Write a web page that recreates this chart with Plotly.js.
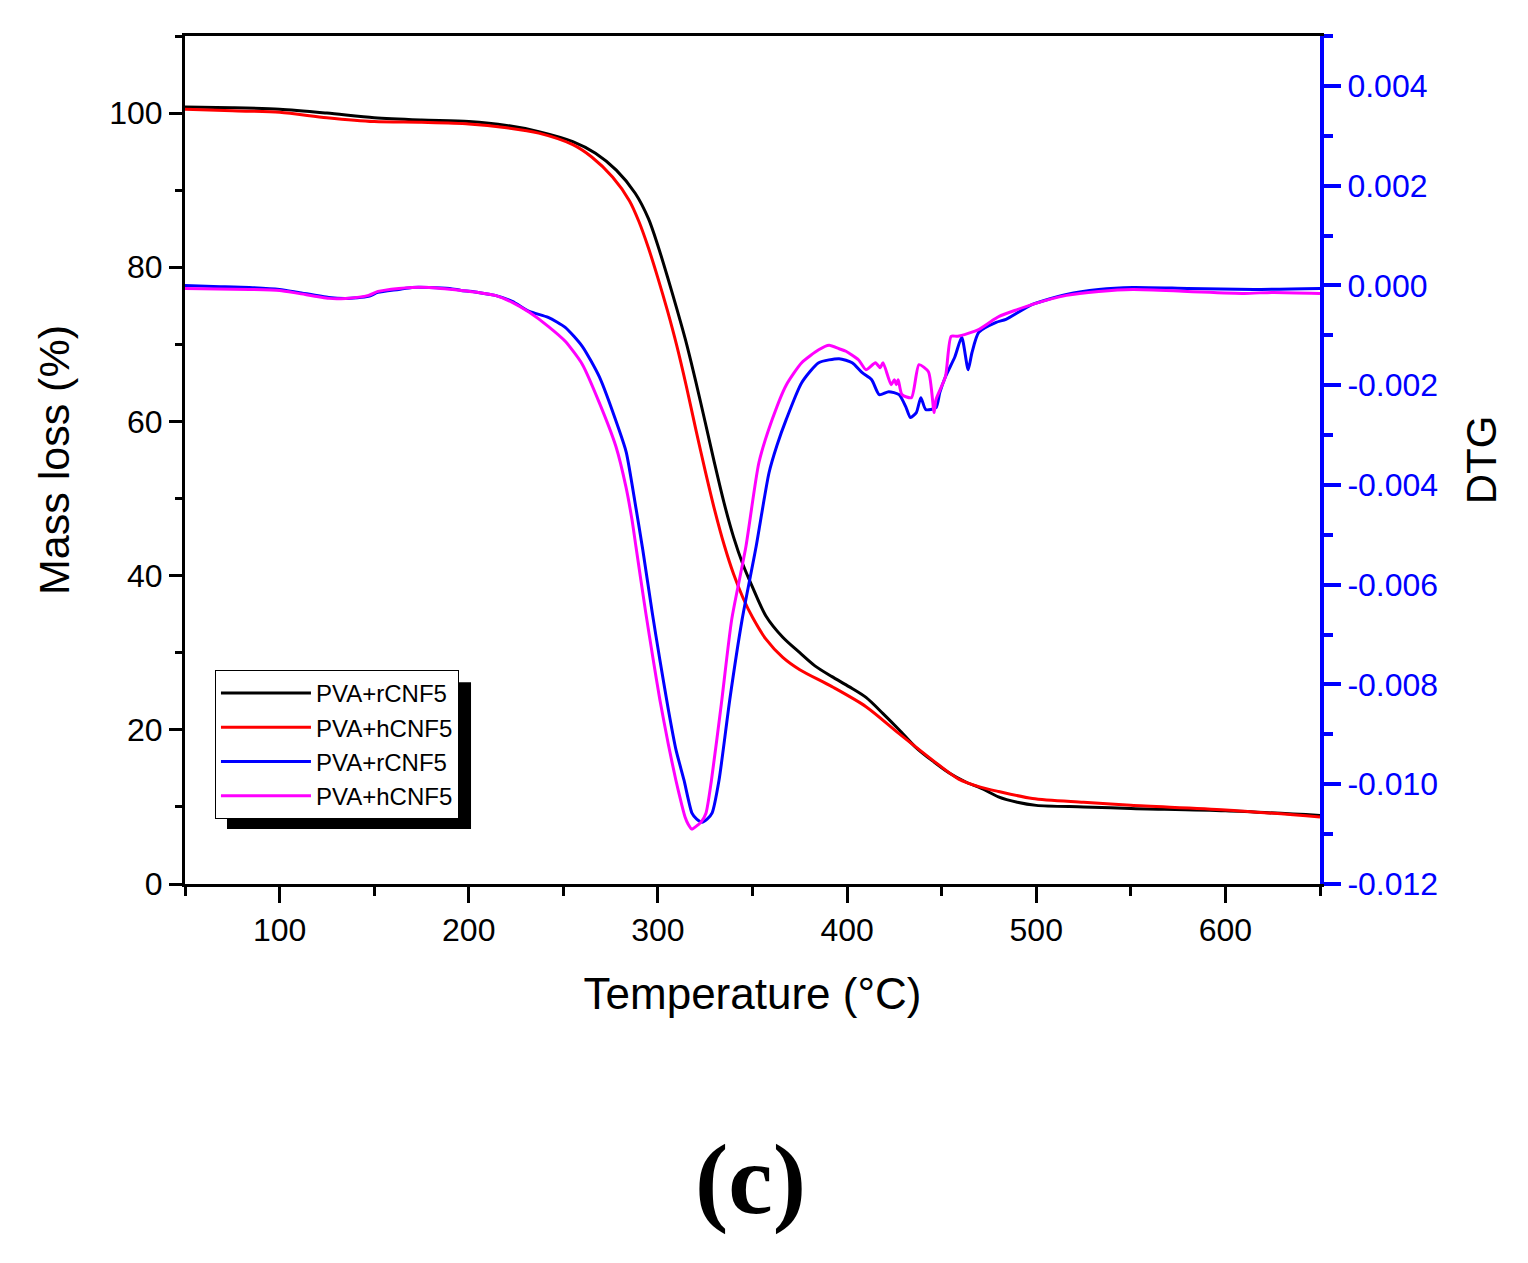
<!DOCTYPE html>
<html>
<head>
<meta charset="utf-8">
<script src="https://cdn.plot.ly/plotly-3.0.1.min.js"></script>
<style>html,body{margin:0;padding:0;background:#fff;}#chart{width:1528px;height:1263px;}</style>
</head>
<body>
<div id="chart"></div>
<script>
// ---- TGA (left axis, Mass loss %) ----
const tgaR_T = [50, 75, 100, 125, 150, 175, 200, 220, 237, 255, 267, 278, 288, 295, 300, 305, 310, 315, 320, 325, 330, 335, 340, 345, 350, 357, 366, 375, 383, 392, 401, 410, 419, 427.5, 436, 445, 454, 463, 472, 480, 490, 500, 525, 550, 600, 650];
const tgaR_M = [100.8, 100.7, 100.5, 100.0, 99.4, 99.1, 98.9, 98.4, 97.6, 96.3, 94.8, 92.6, 89.6, 86.3, 82.8, 78.8, 74.6, 70.2, 65.2, 59.9, 54.5, 49.4, 45.0, 41.4, 38.5, 34.8, 32.0, 30.0, 28.3, 26.9, 25.6, 24.2, 22.1, 20.0, 17.8, 16.0, 14.4, 13.2, 12.3, 11.3, 10.6, 10.2, 10.0, 9.8, 9.5, 8.9];

const tgaH_T = [50, 75, 100, 125, 150, 175, 200, 220, 237, 255, 265, 276, 285, 290, 295, 300, 305, 310, 315, 320, 325, 330, 335, 340, 345, 350, 357, 366, 375, 392, 410, 427.5, 445, 459, 470, 480, 498, 525, 550, 600, 650];
const tgaH_M = [100.5, 100.3, 100.1, 99.4, 98.9, 98.8, 98.6, 98.1, 97.4, 95.9, 94.3, 91.7, 88.6, 85.9, 82.5, 78.6, 74.4, 69.8, 64.6, 59.0, 53.6, 48.5, 44.0, 40.2, 37.1, 34.6, 31.8, 29.4, 27.8, 25.6, 23.0, 19.5, 16.1, 13.6, 12.6, 12.0, 11.1, 10.6, 10.2, 9.6, 8.7];

// ---- DTG (right axis) ----
const dtgR_T = [50, 65, 84, 100, 110, 126, 135, 147, 152, 163, 170, 179, 190, 196, 205, 214, 223, 232, 242, 251, 260, 269, 279.4, 283.3, 288.2, 292, 297, 301, 305.5, 309.5, 313.8, 318, 320.5, 323.3, 326, 328.6, 332.3, 338, 344.5, 351.9, 358.7, 363, 367.8, 376, 385, 395.8, 402.7, 408, 413, 417, 422, 427.5, 431, 433.5, 436.6, 439, 441.6, 447, 449, 452, 457, 460.6, 464, 466, 469.6, 478.8, 484, 498, 516, 533, 551, 580, 615, 650];
const dtgR_V = [0.0000, -0.00002, -0.00004, -0.00008, -0.00014, -0.00024, -0.00026, -0.00022, -0.00014, -0.00008, -0.00004, -0.00004, -0.00006, -0.0001, -0.00014, -0.0002, -0.00032, -0.00052, -0.00064, -0.00084, -0.00122, -0.00183, -0.00289, -0.00335, -0.00442, -0.0053, -0.00656, -0.0075, -0.0085, -0.0093, -0.00992, -0.01058, -0.0107, -0.01076, -0.0107, -0.01058, -0.00992, -0.0083, -0.0067, -0.00524, -0.00376, -0.0032, -0.00269, -0.00195, -0.00155, -0.00147, -0.00155, -0.00175, -0.00189, -0.00219, -0.00213, -0.00219, -0.00243, -0.00265, -0.00255, -0.00225, -0.00249, -0.00245, -0.00215, -0.00183, -0.00143, -0.00104, -0.00169, -0.00135, -0.00094, -0.00074, -0.00068, -0.00038, -0.00018, -0.00008, -0.00004, -0.00006, -0.00008, -0.00006];

const dtgH_T = [50, 84, 100, 110, 126, 135, 147, 152, 163, 170, 179, 196, 205, 214, 223, 232, 242, 251, 260, 269, 277.8, 283.1, 286.3, 288.4, 293.6, 297.5, 301, 305.5, 309.5, 312.2, 314.3, 316, 318, 320, 322.8, 325.4, 328.3, 333.5, 339, 346.5, 353.4, 360.4, 367.8, 376, 385, 390.5, 395.8, 399.4, 406, 410, 415, 417.5, 419, 423.3, 425, 426, 427, 429, 434, 438, 443, 446, 447, 452, 455, 458.5, 469.8, 477.8, 480.4, 498, 516, 533, 551, 580, 610, 625, 650];
const dtgH_V = [-0.00006, -0.00008, -0.0001, -0.00016, -0.00026, -0.00026, -0.0002, -0.00012, -0.00006, -0.00004, -0.00004, -0.0001, -0.00014, -0.0002, -0.00034, -0.00054, -0.00082, -0.00112, -0.00158, -0.00235, -0.00323, -0.00404, -0.0047, -0.00524, -0.00657, -0.0075, -0.0083, -0.0092, -0.00992, -0.01035, -0.01065, -0.0108, -0.0109, -0.01085, -0.01076, -0.01058, -0.00992, -0.0084, -0.0067, -0.00524, -0.00355, -0.00269, -0.002, -0.00155, -0.00129, -0.0012, -0.00127, -0.00132, -0.00149, -0.00169, -0.00155, -0.00165, -0.00155, -0.00199, -0.00189, -0.00199, -0.00189, -0.00219, -0.00225, -0.00159, -0.00173, -0.00255, -0.00229, -0.00183, -0.00102, -0.00102, -0.00088, -0.00068, -0.00062, -0.00038, -0.0002, -0.00012, -0.00008, -0.00012, -0.00016, -0.00014, -0.00016];

const seriesNames = ['PVA+rCNF5', 'PVA+hCNF5', 'PVA+rCNF5', 'PVA+hCNF5'];
const seriesColors = ['#000000', '#ff0000', '#0000ff', '#ff00ff'];

const dtgTickVals = [-0.012, -0.010, -0.008, -0.006, -0.004, -0.002, 0.000, 0.002, 0.004];
const dtgTickText = ['-0.012', '-0.010', '-0.008', '-0.006', '-0.004', '-0.002', '0.000', '0.002', '0.004'];

const FONT = 'Liberation Sans, Arial, sans-serif';

const traces = [
  {x: tgaR_T, y: tgaR_M, name: seriesNames[0], type: 'scatter', mode: 'lines', line: {color: seriesColors[0], width: 3, shape: 'spline', smoothing: 0.8}},
  {x: tgaH_T, y: tgaH_M, name: seriesNames[1], type: 'scatter', mode: 'lines', line: {color: seriesColors[1], width: 3, shape: 'spline', smoothing: 0.8}},
  {x: dtgR_T, y: dtgR_V, name: seriesNames[2], yaxis: 'y2', type: 'scatter', mode: 'lines', line: {color: seriesColors[2], width: 3, shape: 'spline', smoothing: 0.6}},
  {x: dtgH_T, y: dtgH_V, name: seriesNames[3], yaxis: 'y2', type: 'scatter', mode: 'lines', line: {color: seriesColors[3], width: 3, shape: 'spline', smoothing: 0.6}}
];

const layout = {
  width: 1528, height: 1263,
  margin: {l: 185, r: 208, t: 36, b: 379},
  paper_bgcolor: '#ffffff', plot_bgcolor: '#ffffff',
  font: {family: FONT, color: '#000000', size: 32},
  showlegend: true,
  legend: {
    x: 0.0264, y: 0.2524, xanchor: 'left', yanchor: 'top',
    bgcolor: '#ffffff', bordercolor: '#000000', borderwidth: 1,
    font: {family: FONT, size: 24, color: '#000000'},
    itemwidth: 90, tracegroupgap: 0
  },
  xaxis: {
    range: [50, 650], tick0: 0, dtick: 100,
    ticks: 'outside', ticklen: 16, tickwidth: 3, tickcolor: '#000000',
    showline: true, linewidth: 3, linecolor: '#000000', mirror: true,
    showgrid: false, zeroline: false,
    tickfont: {family: FONT, size: 32, color: '#000000'},
    minor: {tick0: 0, dtick: 50, ticks: 'outside', ticklen: 9, tickwidth: 3, tickcolor: '#000000', showgrid: false},
    title: {text: 'Temperature (°C)', font: {family: FONT, size: 44, color: '#000000'}, standoff: 31}
  },
  yaxis: {
    range: [0, 110], tick0: 0, dtick: 20,
    ticks: 'outside', ticklen: 13, tickwidth: 3, tickcolor: '#000000',
    showline: true, linewidth: 3, linecolor: '#000000', mirror: false,
    showgrid: false, zeroline: false,
    tickfont: {family: FONT, size: 32, color: '#000000'},
    minor: {tick0: 0, dtick: 10, ticks: 'outside', ticklen: 7, tickwidth: 3, tickcolor: '#000000', showgrid: false},
    title: {text: 'Mass loss (%)', font: {family: FONT, size: 43, color: '#000000'}, standoff: 27}
  },
  yaxis2: {
    overlaying: 'y', side: 'right',
    range: [-0.012, 0.005],
    tickmode: 'array', tickvals: dtgTickVals, ticktext: dtgTickText,
    ticks: 'outside', ticklen: 17, tickwidth: 4, tickcolor: '#0000ff',
    showline: true, linewidth: 4, linecolor: '#0000ff',
    showgrid: false, zeroline: false,
    tickfont: {family: FONT, size: 32, color: '#0000ff'},
    minor: {tickmode: 'linear', tick0: 0, dtick: 0.001, ticks: 'outside', ticklen: 9, tickwidth: 4, tickcolor: '#0000ff', showgrid: false},
    title: {text: 'DTG', font: {family: FONT, size: 42, color: '#000000'}, standoff: 30}
  },
  shapes: [
    {type: 'rect', xref: 'paper', yref: 'paper', x0: 0.037, x1: 0.252, y0: 0.0649, y1: 0.238,
     fillcolor: '#000000', line: {width: 0}, layer: 'above'}
  ],
  annotations: [
    {text: '<b>(c)</b>', xref: 'paper', yref: 'paper', x: 0.4978, y: -0.349, xanchor: 'center', yanchor: 'middle',
     showarrow: false, font: {family: 'Liberation Serif, Times New Roman, serif', size: 100, color: '#000000'}}
  ]
};

Plotly.newPlot('chart', traces, layout, {displayModeBar: false, staticPlot: true});
</script>
</body>
</html>
